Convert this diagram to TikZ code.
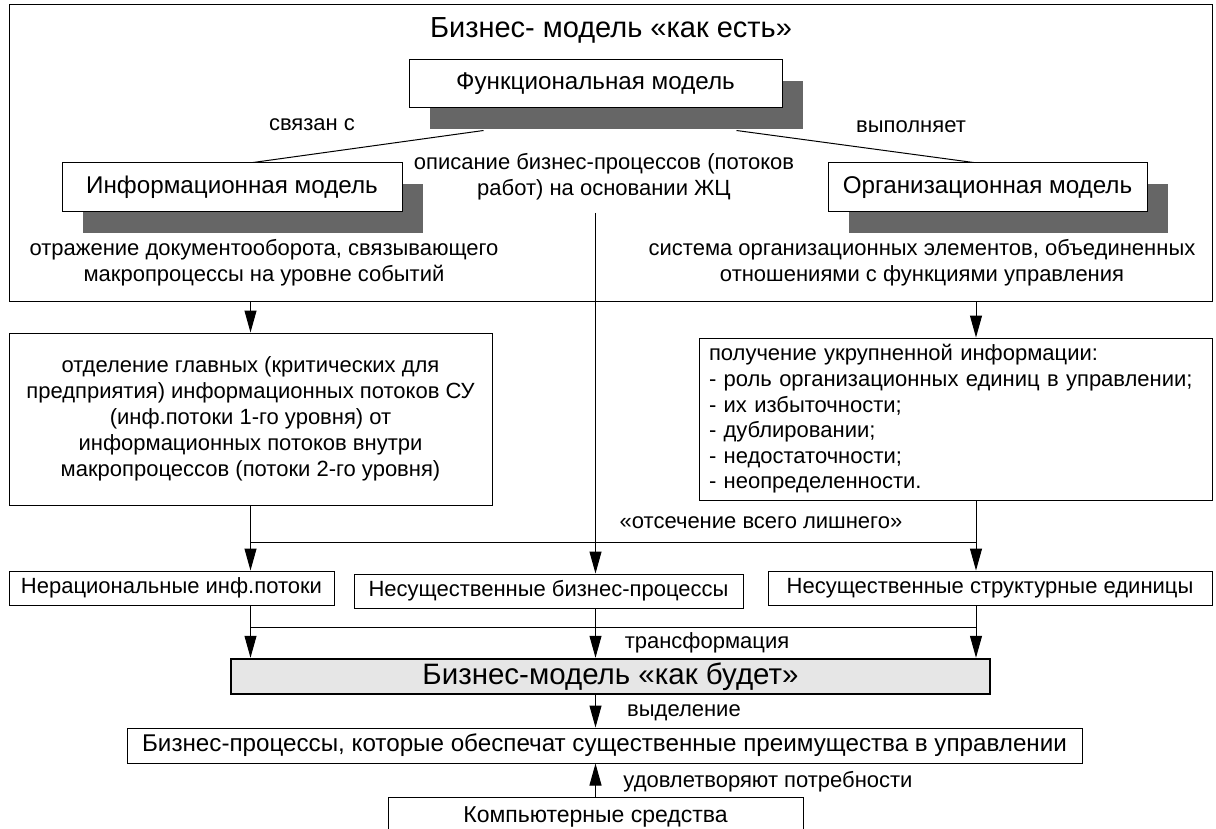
\documentclass[tikz,border=0pt]{standalone}
\usepackage{fontspec}
\setmainfont{Liberation Sans}
\usetikzlibrary{arrows.meta,shadows}
\definecolor{shadowgray}{RGB}{102,102,102}
\definecolor{tobegray}{RGB}{230,230,230}
\newcommand{\txt}{\fontsize{22}{26}\selectfont}
\newcommand{\bigtxt}{\fontsize{24.2}{28}\selectfont}
\tikzset{
  box/.style={draw, fill=white, line width=1pt, inner sep=0pt, align=center, font=\txt},
  shbox/.style={box, font=\bigtxt, drop shadow={shadow xshift=21pt, shadow yshift=-21pt, fill=shadowgray, opacity=1}},
  lbl/.style={align=center, inner sep=0pt, font=\txt},
  arr/.style={-{Triangle[length=22pt,width=12pt]}, line width=1pt}
}

\begin{document}
\begin{tikzpicture}[x=1pt,y=-1pt]
\path[use as bounding box, fill=white] (0,0) rectangle (1216,829);

\node[draw, line width=1pt, minimum width=1203pt, minimum height=296pt] (asis) at (610.5,153) {};
\node[lbl, font=\fontsize{29}{32}\selectfont] (title) at (611,30) {Бизнес- модель «как есть»};
\node[shbox, minimum width=373pt, minimum height=48pt] (func) at (595.5,84) {Функциональная модель};
\node[shbox, minimum width=340pt, minimum height=49pt] (info) at (232,187.5) {Информационная модель};
\node[shbox, minimum width=319pt, minimum height=49pt] (org) at (987.5,187.5) {Организационная модель};
\node[lbl] (linked) at (312,125) {связан с};
\node[lbl] (does) at (911,127) {выполняет};
\node[lbl] (desc) at (604,177) {описание бизнес-процессов (потоков\\работ) на основании ЖЦ};
\node[lbl] (infotxt) at (264,263) {отражение документооборота, связывающего\\макропроцессы на уровне событий};
\node[lbl] (orgtxt) at (922,263) {система организационных элементов, объединенных\\отношениями с функциями управления};

\node[box, minimum width=483pt, minimum height=172pt] (sep) at (250.5,419) {отделение главных (критических для\\предприятия) информационных потоков СУ\\(инф.потоки 1-го уровня) от\\информационных потоков внутри\\макропроцессов (потоки 2-го уровня)};
\node[box, minimum width=513pt, minimum height=162pt, align=left, text width=493pt, font=\fontsize{22}{25.6}\selectfont] (enlarge) at (955.5,419) {получение укрупненной информации:\\- роль организационных единиц в управлении;\\- их избыточности;\\- дублировании;\\- недостаточности;\\- неопределенности.};
\node[lbl] (cutlbl) at (761,523) {«отсечение всего лишнего»};

\node[box, minimum width=325pt, minimum height=34pt] (irr) at (171.5,588) {Нерациональные инф.потоки};
\node[box, minimum width=389pt, minimum height=34pt] (busi) at (548.5,591) {Несущественные бизнес-процессы};
\node[box, minimum width=444pt, minimum height=34pt] (struct) at (990,588) {Несущественные структурные единицы};
\node[lbl] (trans) at (707,643) {трансформация};

\node[box, fill=tobegray, line width=2.5pt, minimum width=759pt, minimum height=35pt, font=\fontsize{29.5}{32}\selectfont] (tobe) at (610.5,676.5) {Бизнес-модель «как будет»};
\node[lbl] (select) at (684,713) {выделение};
\node[box, minimum width=955pt, minimum height=35pt, font=\bigtxt] (proc) at (604.5,745.5) {Бизнес-процессы, которые обеспечат существенные преимущества в управлении};
\node[lbl] (need) at (768,782) {удовлетворяют потребности};
\node[box, minimum width=415pt, minimum height=40pt, font=\fontsize{23}{26}\selectfont] (comp) at (595.5,817) {Компьютерные средства};

\coordinate (fl) at ([shift={(75,22)}]func.south west);
\coordinate (fr) at ([shift={(-46,22)}]func.south east);
\coordinate (rx) at (976,0);
\coordinate (cut) at (0,542);
\coordinate (mix) at (0,627);

\draw[line width=1pt] (fl) -- ([xshift=21pt]info.north);
\draw[line width=1pt] (fr) -- ([xshift=-14pt]org.north);
\draw[arr] (func.south |- 0,213) -- (func.south |- busi.north);
\draw[arr] (asis.south -| sep.north) -- (sep.north);
\draw[arr] (asis.south -| rx) -- (rx |- enlarge.north);
\draw[arr] (sep.south) -- (sep.south |- irr.north);
\draw[arr] (rx |- enlarge.south) -- (rx |- struct.north);
\draw[line width=1pt] (sep.south |- cut) -- (rx |- cut);
\draw[line width=1pt] (sep.south |- irr.south) -- (sep.south |- mix) -- (rx |- mix) -- (rx |- struct.south);
\draw[line width=1pt] (func.south |- busi.south) -- (func.south |- mix);
\foreach \p in {sep.south, func.south, rx}
  \draw[arr] (\p |- mix) -- (\p |- tobe.north);
\draw[arr] (tobe.south -| func.south) -- (func.south |- proc.north);
\draw[arr] (comp.north) -- (proc.south -| comp.north);
\end{tikzpicture}
\end{document}
